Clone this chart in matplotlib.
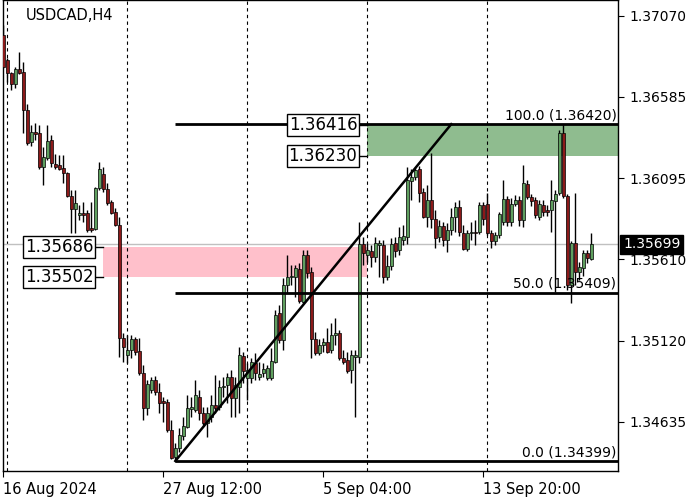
import matplotlib
matplotlib.use('Agg')
import matplotlib.pyplot as plt
from matplotlib.patches import Rectangle
import numpy as np

# USDCAD H4 candles
opens = [
    1.36955, 1.36805, 1.36727, 1.36661, 1.36751, 1.36733, 1.36505, 1.36313, 1.36373, 1.36367,
    1.36163, 1.36217, 1.36325, 1.36181, 1.36175, 1.36157, 1.36127, 1.35989, 1.35911, 1.35875,
    1.35887, 1.35887, 1.35797, 1.35791, 1.36037, 1.36121, 1.36031, 1.35953, 1.35893, 1.35815,
    1.35137, 1.35035, 1.35065, 1.35131, 1.35059, 1.34927, 1.34717, 1.34825, 1.34885, 1.34813,
    1.34759, 1.34753, 1.34585, 1.34423, 1.34477, 1.34549, 1.34603, 1.34711, 1.34705, 1.34783,
    1.34687, 1.34627, 1.34663, 1.34735, 1.34723, 1.34843, 1.34855, 1.34903, 1.34777, 1.34843,
    1.35029, 1.34897, 1.34897, 1.34987, 1.34903, 1.34927, 1.34897, 1.34897, 1.34993, 1.35287,
    1.35125, 1.35455, 1.35503, 1.35503, 1.35551, 1.35353, 1.35635, 1.35533, 1.35131, 1.35047,
    1.35095, 1.35113, 1.35065, 1.35155, 1.35167, 1.35017, 1.35005, 1.34945, 1.35023, 1.35023,
    1.35701, 1.35635, 1.35659, 1.35623, 1.35695, 1.35695, 1.35503, 1.35569, 1.35707, 1.35665,
    1.35725, 1.35743, 1.36079, 1.36103, 1.36151, 1.36013, 1.35863, 1.35965, 1.35851, 1.35743,
    1.35809, 1.35725, 1.35785, 1.35863, 1.35923, 1.35767, 1.35671, 1.35767, 1.35773, 1.35773,
    1.35935, 1.35941, 1.35767, 1.35719, 1.35755, 1.35833, 1.35971, 1.35833, 1.35941, 1.35965,
    1.35845, 1.36061, 1.35983, 1.35965, 1.35863, 1.35935, 1.35905, 1.35905, 1.35959, 1.36007,
    1.36367, 1.35989, 1.35455, 1.35707, 1.35533, 1.35557, 1.35647, 1.35611,
]
highs = [
    1.37015, 1.36817, 1.36733, 1.36763, 1.36853, 1.36793, 1.36541, 1.36415, 1.36427, 1.36415,
    1.36283, 1.36415, 1.36355, 1.36241, 1.36235, 1.36235, 1.36133, 1.36025, 1.36025, 1.35935,
    1.35953, 1.35905, 1.35953, 1.36043, 1.36193, 1.36163, 1.36067, 1.35965, 1.35917, 1.35863,
    1.35167, 1.35155, 1.35155, 1.35143, 1.35137, 1.34975, 1.34885, 1.34903, 1.34909, 1.34867,
    1.34783, 1.34771, 1.34645, 1.34507, 1.34597, 1.34663, 1.34795, 1.34783, 1.34885, 1.34825,
    1.34723, 1.34723, 1.34795, 1.34915, 1.34885, 1.34903, 1.34927, 1.34945, 1.34903, 1.35083,
    1.35053, 1.34987, 1.35017, 1.35047, 1.34993, 1.34987, 1.34975, 1.35077, 1.35305, 1.35335,
    1.35497, 1.35635, 1.35575, 1.35575, 1.35587, 1.35665, 1.35665, 1.35563, 1.35173, 1.35131,
    1.35137, 1.35197, 1.35227, 1.35257, 1.35185, 1.35065, 1.35053, 1.35065, 1.35065, 1.35833,
    1.35743, 1.35707, 1.35695, 1.35743, 1.35725, 1.35725, 1.35635, 1.35737, 1.35743, 1.35803,
    1.35815, 1.36163, 1.36151, 1.36163, 1.36169, 1.36037, 1.36055, 1.36247, 1.35905, 1.35845,
    1.35833, 1.35827, 1.35917, 1.35953, 1.35965, 1.35815, 1.35785, 1.35833, 1.35845, 1.35953,
    1.35953, 1.36007, 1.35785, 1.35773, 1.35893, 1.36085, 1.35989, 1.35977, 1.35995, 1.35989,
    1.36175, 1.36085, 1.36001, 1.35983, 1.35965, 1.35965, 1.35935, 1.36085, 1.36025, 1.36385,
    1.36420, 1.36001, 1.35719, 1.36007, 1.35593, 1.35665, 1.35665, 1.35767,
]
lows = [
    1.36757, 1.36673, 1.36625, 1.36637, 1.36721, 1.36367, 1.36295, 1.36289, 1.36325, 1.36151,
    1.36055, 1.36205, 1.36163, 1.36151, 1.36145, 1.36067, 1.35983, 1.35767, 1.35767, 1.35845,
    1.35833, 1.35773, 1.35773, 1.35785, 1.36025, 1.36013, 1.35935, 1.35881, 1.35809, 1.35023,
    1.34993, 1.34987, 1.35017, 1.35035, 1.34915, 1.34645, 1.34675, 1.34807, 1.34795, 1.34687,
    1.34633, 1.34573, 1.34411, 1.34399, 1.34453, 1.34525, 1.34597, 1.34663, 1.34693, 1.34645,
    1.34615, 1.34543, 1.34633, 1.34687, 1.34705, 1.34783, 1.34747, 1.34663, 1.34663, 1.34687,
    1.34867, 1.34765, 1.34867, 1.34885, 1.34885, 1.34903, 1.34885, 1.34885, 1.34987, 1.35107,
    1.35065, 1.35407, 1.35455, 1.35383, 1.35347, 1.35347, 1.35497, 1.35017, 1.35035, 1.35035,
    1.35053, 1.35047, 1.35047, 1.35095, 1.35005, 1.34981, 1.34927, 1.34867, 1.34663, 1.34987,
    1.35575, 1.35593, 1.35563, 1.35593, 1.35503, 1.35467, 1.35485, 1.35545, 1.35623, 1.35635,
    1.35695, 1.35701, 1.35965, 1.36085, 1.35953, 1.35857, 1.35803, 1.35797, 1.35677, 1.35713,
    1.35689, 1.35653, 1.35755, 1.35773, 1.35749, 1.35665, 1.35659, 1.35725, 1.35695, 1.35761,
    1.35815, 1.35755, 1.35677, 1.35695, 1.35737, 1.35815, 1.35809, 1.35809, 1.35929, 1.35809,
    1.35803, 1.35971, 1.35929, 1.35857, 1.35845, 1.35869, 1.35869, 1.35773, 1.35413, 1.35995,
    1.35977, 1.35425, 1.35347, 1.35455, 1.35485, 1.35509, 1.35587, 1.35605,
]
closes = [
    1.36763, 1.36727, 1.36661, 1.36751, 1.36727, 1.36505, 1.36307, 1.36373, 1.36361, 1.36163,
    1.36223, 1.36319, 1.36187, 1.36163, 1.36151, 1.36127, 1.35989, 1.35911, 1.35947, 1.35887,
    1.35875, 1.35785, 1.35785, 1.36037, 1.36151, 1.36031, 1.35947, 1.35887, 1.35815, 1.35137,
    1.35083, 1.35065, 1.35131, 1.35053, 1.34927, 1.34717, 1.34861, 1.34885, 1.34813, 1.34747,
    1.34747, 1.34585, 1.34417, 1.34477, 1.34555, 1.34609, 1.34717, 1.34723, 1.34795, 1.34687,
    1.34627, 1.34687, 1.34735, 1.34717, 1.34843, 1.34849, 1.34903, 1.34777, 1.34855, 1.35035,
    1.34939, 1.34945, 1.34993, 1.34927, 1.34921, 1.34951, 1.34957, 1.34999, 1.35275, 1.35125,
    1.35455, 1.35503, 1.35509, 1.35557, 1.35359, 1.35635, 1.35527, 1.35131, 1.35047, 1.35095,
    1.35113, 1.35053, 1.35155, 1.35167, 1.35017, 1.34993, 1.34939, 1.35035, 1.35035, 1.35701,
    1.35647, 1.35665, 1.35623, 1.35707, 1.35707, 1.35503, 1.35569, 1.35701, 1.35659, 1.35743,
    1.35749, 1.36085, 1.36103, 1.36145, 1.36007, 1.35863, 1.35965, 1.35851, 1.35737, 1.35809,
    1.35725, 1.35785, 1.35863, 1.35923, 1.35773, 1.35671, 1.35767, 1.35773, 1.35767, 1.35935,
    1.35851, 1.35767, 1.35719, 1.35755, 1.35881, 1.35971, 1.35833, 1.35941, 1.35965, 1.35845,
    1.36067, 1.35983, 1.35959, 1.35875, 1.35941, 1.35893, 1.35893, 1.35965, 1.36001, 1.36367,
    1.35989, 1.35455, 1.35707, 1.35533, 1.35563, 1.35647, 1.35617, 1.35699,
]

price_ticks = [1.37070, 1.36585, 1.36095, 1.35610, 1.35120, 1.34635]
date_tick_bars = [0, 40, 80, 120]
date_tick_labels = ['16 Aug 2024', '27 Aug 12:00', '5 Sep 04:00', '13 Sep 20:00']
grid_bars = [1, 31, 61, 91, 121]

current_price = 1.35699

# zones (rectangles) and fibonacci retracement
supply_zone = (1.36416, 1.36230)   # green
demand_zone = (1.35686, 1.35502)   # pink
demand_start, demand_end = 25, 91
supply_start = 91
fib_start_bar, fib_end_bar = 43, 112
fib_low, fib_high = 1.34399, 1.36420
fib_levels = [0.0, 50.0, 100.0]
fib_prices = [1.34399, 1.35409, 1.36420]

fig = plt.figure(figsize=(7, 5), dpi=100)
ax = fig.add_axes([3 / 700, 29 / 500, 615 / 700, 471 / 500])

x = np.arange(len(opens))
o = np.array(opens)
c = np.array(closes)
up = c >= o

ax.set_xlim(-0.1, 153.7)
ax.set_ylim(1.34339, 1.37165)

# background zones
ax.add_patch(Rectangle((demand_start, demand_zone[1]), demand_end - demand_start,
                       demand_zone[0] - demand_zone[1], facecolor='#ffc0cb',
                       edgecolor='none', zorder=1))
ax.add_patch(Rectangle((supply_start, supply_zone[1]), 200,
                       supply_zone[0] - supply_zone[1], facecolor='#8fbc8f',
                       edgecolor='none', zorder=1))

# vertical dashed grid
for gb in grid_bars:
    ax.axvline(gb, color='black', lw=0.8, ls=(0, (3, 3)), zorder=1.5)

# current price line
ax.axhline(current_price, color='#c0c0c0', lw=1, zorder=1.6)

# candles
ax.vlines(x, lows, highs, color='black', lw=1, zorder=3)
body = np.abs(c - o)
body = np.where(body < 0.00004, 0.00004, body)
bottom = np.minimum(o, c)
ax.bar(x[up], body[up], bottom=bottom[up], width=0.7, color='#5f9f5f',
       edgecolor='black', linewidth=0.5, zorder=4)
ax.bar(x[~up], body[~up], bottom=bottom[~up], width=0.7, color='#8b1a1a',
       edgecolor='black', linewidth=0.5, zorder=4)

# fibonacci
for lvl, fp in zip(fib_levels, fib_prices):
    ax.plot([fib_start_bar, 200], [fp, fp], color='black', lw=2, zorder=5,
            solid_capstyle='butt')
    ax.text(153.3, fp + 0.00010, f'{lvl:.1f} ({fp:.5f})', ha='right', va='bottom',
            fontsize=10, color='black', zorder=6)
ax.plot([fib_start_bar, fib_end_bar], [fib_low, fib_high], color='black', lw=1.8,
        zorder=5)

# zone price labels
box = dict(boxstyle='square,pad=0.12', facecolor='white', edgecolor='black', lw=1)
for p in demand_zone:
    ax.plot([demand_start - 2.5, demand_start], [p, p], color='black', lw=1, zorder=5)
    ax.text(demand_start - 2.5, p, f'{p:.5f}', ha='right', va='center',
            fontsize=12, bbox=box, zorder=7)
for p in supply_zone:
    ax.plot([supply_start - 2.5, supply_start], [p, p], color='black', lw=1, zorder=5)
    ax.text(supply_start - 2.5, p, f'{p:.5f}', ha='right', va='center',
            fontsize=12, bbox=box, zorder=7)

ax.text(0.037, 0.968, 'USDCAD,H4', transform=ax.transAxes, fontsize=10.5,
        ha='left', va='center')

# axes / ticks
ax.yaxis.tick_right()
ax.set_yticks(price_ticks)
ax.set_yticklabels([f'{t:.5f}' for t in price_ticks], fontsize=10)
ax.tick_params(axis='y', direction='out', length=4, pad=4)
ax.set_xticks(date_tick_bars)
ax.set_xticklabels(date_tick_labels, fontsize=10.5, ha='left')
ax.tick_params(axis='x', direction='out', length=4, pad=4)
for s in ax.spines.values():
    s.set_linewidth(1)

ax.text(1.0 + 5 / 615, current_price, f'{current_price:.5f}', transform=ax.get_yaxis_transform(),
        ha='left', va='center', fontsize=10, color='white',
        bbox=dict(boxstyle='square,pad=0.2', facecolor='black', edgecolor='black'),
        zorder=8, clip_on=False)

fig.savefig('out.png', dpi=100)
